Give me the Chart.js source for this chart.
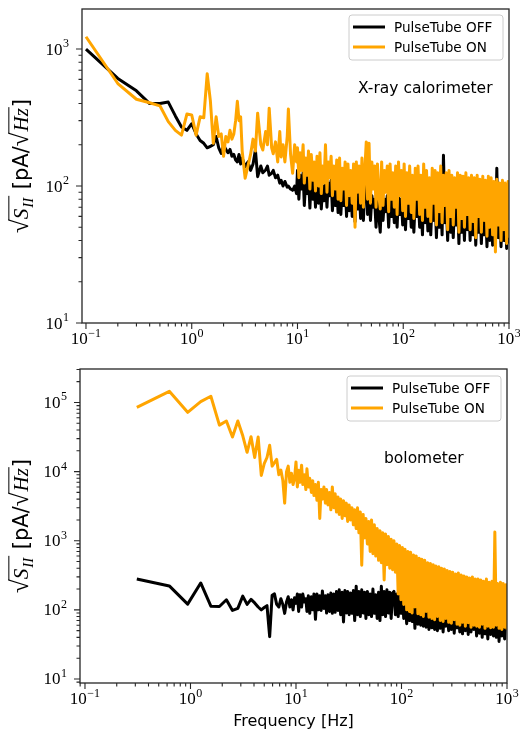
<!DOCTYPE html>
<html><head><meta charset="utf-8">
<script src="https://cdn.jsdelivr.net/npm/chart.js@4.4.1/dist/chart.umd.min.js"></script>
<style>
html,body{margin:0;padding:0;background:#fff;}
#wrap{position:relative;width:520px;height:742px;overflow:hidden;background:#fff;}
canvas{position:absolute;left:0;}
#c1{top:0;}
#c2{top:360px;}
</style></head><body>
<div id="wrap"><canvas id="c1" width="520" height="360"></canvas><canvas id="c2" width="520" height="382"></canvas></div>
<script>
// ---------------- DATA ----------------
const freqTopLow = [0.1,0.2,0.3,0.4,0.5,0.6,0.7,0.8,0.9,1.0,1.1,1.2,1.3,1.4,1.5,1.6,1.7,1.8,1.9,2.0,2.1,2.2,2.3,2.4,2.5,2.6,2.7,2.8,2.9,3.0,
  3.2,3.4,3.6,3.8,4.0,4.2,4.5,4.7,5.0,5.2,5.4,5.7,5.9,6.2,6.5,6.8,7.0,7.3,7.6,8.0,8.2,8.6,9.0,9.4,9.8];
const freqBotLow = [0.31,0.63,0.94,1.25,1.56,1.88,2.19,2.5,2.81,3.13,3.44,3.75,4.06,4.38,4.69,5.0,5.31,5.63,5.94,6.25,6.56,6.88,7.19,7.5,7.81,8.13,8.44,8.75,9.06,9.38,9.69];
const freqDense = [10,10.3,10.6,10.9,11.3,11.6,12,12.4,12.7,13.1,
  13.5,14,14.4,14.8,15.3,15.8,16.3,16.8,17.3,17.8,
  18.4,19,19.5,20.1,20.8,21.4,22.1,22.8,23.5,24.2,
  25,25.7,26.5,27.4,28.2,29.1,30,30.9,31.9,32.9,
  33.9,35,36,37.2,38.3,39.5,40.7,42,43.3,44.7,
  46,47.5,49,50.5,52,53.6,55.3,57,58.8,60.6,
  62.5,64.4,66.4,68.5,70.6,72.8,75.1,77.4,79.8,82.3,
  84.8,87.5,90.2,93,95.9,98.8,102,105,108,112,
  115,119,122,126,130,134,138,143,147,152,
  156,161,166,171,177,182,188,194,200,206,
  212,219,226,233,240,248,255,263,271,280,
  288,297,306,316,326,336,346,357,368,379,
  391,403,416,429,442,456,470,485,500,515,
  531,548,565,582,600,619,638,658,678,700,
  721,744,767,791,815,841,867,894,921,950,
  980,1000];

// X-ray calorimeter (top panel)
const xrayOffLow = [1000,610,495,400,400,410,325,270,255,285,240,215,205,190,195,200,230,190,173,200,185,175,185,165,170,155,150,170,145,160,
  138,150,130,145,183,117,140,125,131,140,120,124,130,115,120,105,110,100,108,98,100,95,93,100,88];
const xrayOnLow = [1230,560,430,405,385,295,255,235,335,330,235,320,315,660,420,205,320,230,240,165,230,210,255,220,240,300,415,300,320,180,
  114,140,170,220,180,340,200,183,250,200,370,190,172,210,150,250,163,200,150,230,365,170,124,200,150];
const xrayOffDense = [130,80,120,95,125,72,115,88,120,69,
  115,80,110,70,120,75,110,68,100,78,
  110,70,105,85,110,66,100,72,105,64,
  105,62,100,72,110,60,100,66,95,60,
  105,55,100,68,105,58,110,56,95,125,
  62,95,56,85,70,80,50,85,60,46,
  85,56,80,65,85,50,82,60,80,54,
  82,50,88,62,80,52,85,48,80,58,
  85,50,78,46,82,60,85,50,76,44,
  88,54,80,47,75,44,82,56,80,42,
  80,50,85,44,168,54,78,40,82,46,
  76,42,74,52,80,38,76,46,74,40,
  80,48,74,40,78,44,74,37,78,46,
  72,38,76,44,70,36,76,40,74,37,
  70,40,135,42,68,36,72,40,68,35,
  70,38];
const xrayOnDense = [190,115,175,130,200,105,160,120,180,95,
  170,110,150,92,165,100,175,88,140,105,
  200,90,150,115,165,85,140,95,155,80,
  160,78,135,95,150,72,145,85,130,75,
  145,50,150,90,140,75,160,70,130,210,
  80,205,75,150,95,140,70,145,85,68,
  150,72,130,90,140,65,145,80,125,70,
  140,62,150,85,130,66,145,60,125,75,
  140,64,120,58,135,80,140,62,120,56,
  145,70,130,60,115,55,135,75,130,52,
  125,65,140,54,120,72,125,48,130,60,
  120,52,115,70,125,46,120,58,118,50,
  125,62,115,48,120,55,115,42,120,60,
  112,46,118,56,110,43,118,50,115,44,
  108,33,112,52,105,40,110,48,105,38,
  108,42];

// Bolometer (bottom panel)
const boloOffLow = [280,222,121,245,113,112,140,98,105,158,120,142,126,110,100,108,115,41,163,170,120,110,145,120,89,130,155,110,140,100,150];
const boloOnLow = [85000,145000,72000,103000,123000,47000,54000,31600,54000,33000,19000,32000,16000,31600,8800,13000,16000,24000,12000,13500,15000,9000,10500,7500,3500,10000,12000,7000,9500,6500,8000];
const boloOffDense = [124,170,95,165,110,170,130,145,95,160,
  89,155,100,170,73,170,100,160,98,188,
  105,160,90,165,95,175,89,170,92,185,
  98,195,85,180,67,190,90,185,85,175,
  89,190,70,220,85,185,80,195,90,180,
  75,185,85,170,80,200,89,165,75,180,
  70,220,85,185,80,195,90,180,75,175,
  185,85,170,80,165,89,160,75,150,63,
  155,70,140,68,145,54,135,62,140,60,
  124,58,130,56,120,52,125,55,115,52,
  120,50,110,54,115,48,105,58,110,50,
  100,52,105,46,100,55,95,48,100,45,
  110,50,100,44,105,48,95,52,100,42,
  95,46,100,40,95,45,90,38,95,44,
  100,42,90,40,95,35,90,42,85,38,
  95,58];
const boloOnDense = [13800,6000,10500,7000,12400,6500,9000,5500,11000,6000,
  8000,5000,7400,4500,6500,3850,7000,2100,5500,4000,
  6000,3500,5500,3300,5000,2800,6000,3000,4800,2600,
  4300,2400,4000,2100,3800,2300,3500,1900,3300,2000,
  3000,1700,2800,1500,3000,1300,2600,443,2400,1100,
  2100,900,1900,700,2000,650,1700,600,1500,520,
  1400,480,1300,270,1250,450,1150,400,1050,380,
  1000,350,900,170,850,140,800,120,750,100,
  700,95,680,90,620,110,600,88,560,85,
  540,80,520,95,480,78,470,75,450,72,
  430,80,420,70,400,68,390,75,370,66,
  360,64,350,72,330,62,340,60,320,66,
  310,58,300,65,290,56,300,60,280,58,
  280,56,270,62,260,54,280,58,250,55,
  260,56,1340,60,240,54,250,52,240,56,
  230,52];

// Tick labels
const xTickValues = [0.1, 1, 10, 100, 1000];
const xTickExps = ['\u22121', '0', '1', '2', '3'];
const topYTickValues = [10, 100, 1000];
const topYTickExps = ['1', '2', '3'];
const botYTickValues = [10, 100, 1000, 10000, 100000];
const botYTickExps = ['1', '2', '3', '4', '5'];
const seriesLabels = ['PulseTube OFF', 'PulseTube ON'];
const panelTitles = ['X-ray calorimeter', 'bolometer'];
const xAxisTitle = 'Frequency [Hz]';

// ---------------- HELPERS ----------------
const pts = (fx, vy) => fx.map((f, i) => ({x: f, y: vy[i]}));
const SERIF = '"Liberation Serif", "DejaVu Serif", serif';
const SANS = '"DejaVu Sans", sans-serif';

function minorList(min, max) {
  const out = [];
  for (let e = -3; e <= 7; e++) for (let m = 2; m <= 9; m++) {
    const v = m * Math.pow(10, e);
    if (v >= min * 1.0001 && v <= max * 0.9999) out.push(v);
  }
  return out;
}

function label10(ctx, x, y, exp, mode) {
  const big = '17px ' + SERIF, small = '12px ' + SERIF;
  ctx.font = big; const w1 = ctx.measureText('10').width;
  ctx.font = small; const w2 = ctx.measureText(exp).width;
  const W = w1 + 0.5 + w2;
  const x0 = mode === 'right' ? x - W : x - W / 2;
  ctx.textAlign = 'left'; ctx.textBaseline = 'alphabetic';
  ctx.font = big; ctx.fillText('10', x0, y);
  ctx.font = small; ctx.fillText(exp, x0 + w1 + 0.5, y - 7.5);
}

function drawYLabel(ctx, cx, cy, s) {
  ctx.save();
  ctx.translate(cx, cy);
  ctx.rotate(-Math.PI / 2);
  ctx.fillStyle = '#000'; ctx.strokeStyle = '#000';
  ctx.textAlign = 'left'; ctx.textBaseline = 'alphabetic';
  const fRad = Math.round(s * 1.2) + 'px ' + SERIF;
  const fIt = 'italic ' + s + 'px ' + SERIF;
  const fSub = 'italic ' + Math.round(s * 0.72) + 'px ' + SERIF;
  const fSans = s + 'px ' + SANS;
  const m = (f, t) => { ctx.font = f; return ctx.measureText(t); };
  const rad = m(fRad, '\u221A');
  const wRad = rad.width, aRad = rad.actualBoundingBoxAscent;
  const wS = m(fIt, 'S').width + 1;
  const wII = m(fSub, 'II').width + 2;
  const wMid = m(fSans, ' [pA/').width;
  const wHz = m(fIt, 'Hz').width + 2;
  const wEnd = m(fSans, ']').width;
  const W = wRad + wS + wII + wMid + wRad + wHz + wEnd;
  let x = -W / 2;
  const base = s * 0.35;
  ctx.lineWidth = 1;
  const ol = base - aRad + 0.5;
  ctx.font = fRad; ctx.fillText('\u221A', x, base);
  ctx.beginPath(); ctx.moveTo(x + wRad - 0.8, ol); ctx.lineTo(x + wRad + wS + wII, ol); ctx.stroke();
  x += wRad;
  ctx.font = fIt; ctx.fillText('S', x, base); x += wS;
  ctx.font = fSub; ctx.fillText('II', x, base + s * 0.22); x += wII;
  ctx.font = fSans; ctx.fillText(' [pA/', x, base); x += wMid;
  ctx.font = fRad; ctx.fillText('\u221A', x, base);
  ctx.beginPath(); ctx.moveTo(x + wRad - 0.8, ol); ctx.lineTo(x + wRad + wHz, ol); ctx.stroke();
  x += wRad;
  ctx.font = fIt; ctx.fillText('Hz', x + 1, base); x += wHz;
  ctx.font = fSans; ctx.fillText(']', x, base);
  ctx.restore();
}

function drawLegend(ctx, chart, x0, y0) {
  const w = 154, h = 45, r = 3;
  ctx.save();
  ctx.beginPath();
  ctx.moveTo(x0 + r, y0); ctx.lineTo(x0 + w - r, y0); ctx.arcTo(x0 + w, y0, x0 + w, y0 + r, r);
  ctx.lineTo(x0 + w, y0 + h - r); ctx.arcTo(x0 + w, y0 + h, x0 + w - r, y0 + h, r);
  ctx.lineTo(x0 + r, y0 + h); ctx.arcTo(x0, y0 + h, x0, y0 + h - r, r);
  ctx.lineTo(x0, y0 + r); ctx.arcTo(x0, y0, x0 + r, y0, r); ctx.closePath();
  ctx.fillStyle = 'rgba(255,255,255,0.8)'; ctx.fill();
  ctx.strokeStyle = '#cccccc'; ctx.lineWidth = 1; ctx.stroke();
  chart.data.datasets.forEach((d, i) => {
    const yy = y0 + 12 + i * 20;
    ctx.strokeStyle = d.borderColor; ctx.lineWidth = 3; ctx.lineCap = 'butt';
    ctx.beginPath(); ctx.moveTo(x0 + 4, yy); ctx.lineTo(x0 + 36, yy); ctx.stroke();
    ctx.fillStyle = '#000'; ctx.font = '13.6px ' + SANS; ctx.textAlign = 'left'; ctx.textBaseline = 'middle';
    ctx.fillText(d.label, x0 + 45, yy + 1);
  });
  ctx.restore();
}

const mplPlugin = {
  id: 'mpl',
  afterDraw(chart, args, o) {
    const ctx = chart.ctx, a = chart.chartArea, xs = chart.scales.x, ys = chart.scales.y;
    ctx.save();
    ctx.fillStyle = '#000'; ctx.font = '15.5px ' + SANS; ctx.textAlign = 'left'; ctx.textBaseline = 'middle';
    ctx.fillText(o.title, o.titleX, o.titleY);
    drawLegend(ctx, chart, o.legX, o.legY);
    ctx.strokeStyle = '#262626'; ctx.lineWidth = 1.3;
    ctx.strokeRect(a.left, a.top, a.right - a.left, a.bottom - a.top);
    ctx.lineWidth = 1.1; ctx.beginPath();
    o.xMajor.forEach(v => { const p = xs.getPixelForValue(v); ctx.moveTo(p, a.bottom); ctx.lineTo(p, a.bottom + 6); });
    minorList(xs.min, xs.max).forEach(v => { const p = xs.getPixelForValue(v); ctx.moveTo(p, a.bottom); ctx.lineTo(p, a.bottom + 3.5); });
    o.yMajor.forEach(v => { const p = ys.getPixelForValue(v); ctx.moveTo(a.left, p); ctx.lineTo(a.left - 6, p); });
    minorList(ys.min, ys.max).forEach(v => { const p = ys.getPixelForValue(v); ctx.moveTo(a.left, p); ctx.lineTo(a.left - 3.5, p); });
    ctx.stroke();
    ctx.fillStyle = '#000';
    o.xMajor.forEach((v, i) => label10(ctx, xs.getPixelForValue(v), a.bottom + 21, o.xExp[i], 'center'));
    o.yMajor.forEach((v, i) => label10(ctx, a.left - 13, ys.getPixelForValue(v) + 5.5, o.yExp[i], 'right'));
    drawYLabel(ctx, 21, (a.top + a.bottom) / 2, 21);
    if (o.xTitle) {
      ctx.fillStyle = '#000'; ctx.font = '16px ' + SANS; ctx.textAlign = 'center'; ctx.textBaseline = 'middle';
      ctx.fillText(o.xTitle, (a.left + a.right) / 2, o.xTitleY);
    }
    ctx.restore();
  }
};

function makeChart(id, freq, off, on, cfg) {
  return new Chart(document.getElementById(id), {
    type: 'line',
    data: {
      datasets: [
        {label: seriesLabels[0], data: pts(freq, off), borderColor: '#000000', borderWidth: 3, pointRadius: 0, tension: 0, borderJoinStyle: 'round', order: 2},
        {label: seriesLabels[1], data: pts(freq, on), borderColor: '#ffa500', borderWidth: 3, pointRadius: 0, tension: 0, borderJoinStyle: 'round', order: 1}
      ]
    },
    options: {
      responsive: false, maintainAspectRatio: false, animation: false, devicePixelRatio: 1,
      layout: {padding: {top: 9, right: cfg.padRight, left: 0, bottom: 0}},
      plugins: {legend: {display: false}, tooltip: {enabled: false}, mpl: cfg.mpl},
      scales: {
        x: {type: 'logarithmic', min: cfg.xmin, max: 1000, grid: {display: false}, border: {display: false},
            ticks: {display: false}, afterFit(s) { s.height = cfg.xH; }},
        y: {type: 'logarithmic', min: cfg.ymin, max: cfg.ymax, grid: {display: false}, border: {display: false},
            ticks: {display: false}, afterFit(s) { s.width = cfg.yW; }}
      }
    },
    plugins: [mplPlugin]
  });
}

makeChart('c1', freqTopLow.concat(freqDense), xrayOffLow.concat(xrayOffDense), xrayOnLow.concat(xrayOnDense), {
  padRight: 11, xH: 37, yW: 82, xmin: 0.0917, ymin: 10, ymax: 1960,
  mpl: {xMajor: xTickValues, xExp: xTickExps, yMajor: topYTickValues, yExp: topYTickExps,
        title: panelTitles[0], titleX: 358, titleY: 89, legX: 349, legY: 15}
});
makeChart('c2', freqBotLow.concat(freqDense), boloOffLow.concat(boloOffDense), boloOnLow.concat(boloOnDense), {
  padRight: 13, xH: 59, yW: 80, xmin: 0.0897, ymin: 8.75, ymax: 305000,
  mpl: {xMajor: xTickValues, xExp: xTickExps, yMajor: botYTickValues, yExp: botYTickExps,
        title: panelTitles[1], titleX: 384, titleY: 99, legX: 347, legY: 16,
        xTitle: xAxisTitle, xTitleY: 362}
});
</script>
</body></html>
